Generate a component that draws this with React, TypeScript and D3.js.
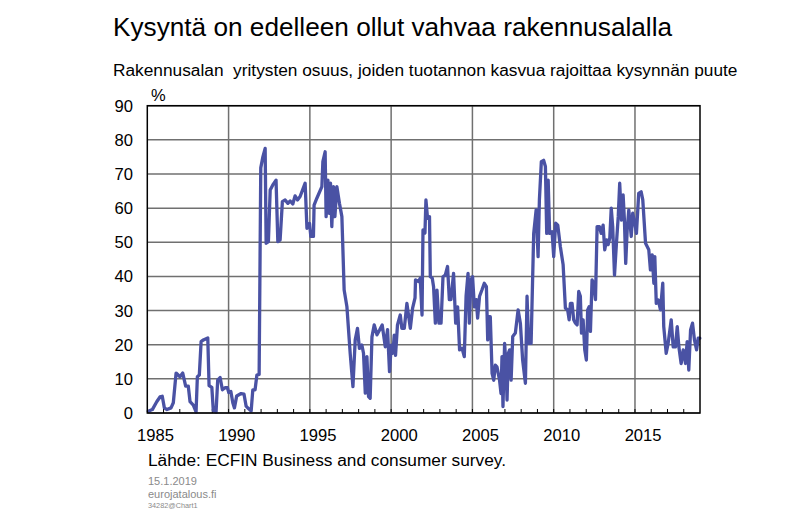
import React from 'react';
import * as d3 from 'd3';

const years = [
  1985.06, 1985.31, 1985.58, 1985.78, 1985.92, 1986.05, 1986.21, 1986.46, 1986.6, 1986.77,
  1987.01, 1987.18, 1987.36, 1987.52, 1987.63, 1987.83, 1988.0, 1988.08, 1988.2, 1988.31,
  1988.45, 1988.72, 1988.8, 1988.97, 1989.06, 1989.23, 1989.33, 1989.48, 1989.62, 1989.78,
  1989.93, 1990.01, 1990.14, 1990.26, 1990.36, 1990.5, 1990.77, 1990.95, 1991.08, 1991.22,
  1991.39, 1991.49, 1991.63, 1991.74, 1991.88, 1991.98, 1992.11, 1992.25, 1992.31, 1992.45,
  1992.56, 1992.72, 1992.92, 1993.03, 1993.17, 1993.31, 1993.48, 1993.65, 1993.79, 1993.95,
  1994.09, 1994.24, 1994.4, 1994.71, 1994.82, 1994.98, 1995.06, 1995.22, 1995.26, 1995.43,
  1995.74, 1995.8, 1995.94, 1996.0, 1996.11, 1996.19, 1996.27, 1996.35, 1996.45, 1996.54,
  1996.66, 1996.82, 1996.97, 1997.11, 1997.28, 1997.48, 1997.65, 1997.79, 1997.93, 1998.05,
  1998.2, 1998.3, 1998.41, 1998.51, 1998.61, 1998.71, 1998.82, 1998.96, 1999.13, 1999.29,
  1999.45, 1999.64, 1999.78, 1999.9, 2000.01, 2000.11, 2000.19, 2000.27, 2000.39, 2000.56,
  2000.66, 2000.81, 2000.97, 2001.18, 2001.32, 2001.47, 2001.5, 2001.69, 2001.79, 2001.9,
  2001.96, 2002.08, 2002.14, 2002.24, 2002.36, 2002.41, 2002.53, 2002.61, 2002.72, 2002.82,
  2002.94, 2003.07, 2003.19, 2003.33, 2003.47, 2003.58, 2003.68, 2003.84, 2003.97, 2004.09,
  2004.21, 2004.36, 2004.5, 2004.61, 2004.73, 2004.81, 2004.91, 2005.01, 2005.12, 2005.24,
  2005.32, 2005.44, 2005.59, 2005.73, 2005.86, 2005.94, 2006.0, 2006.1, 2006.21, 2006.31,
  2006.41, 2006.51, 2006.67, 2006.76, 2006.82, 2006.88, 2006.98, 2007.07, 2007.13, 2007.21,
  2007.29, 2007.38, 2007.48, 2007.64, 2007.81, 2007.95, 2008.09, 2008.26, 2008.36, 2008.46,
  2008.61, 2008.77, 2008.92, 2009.04, 2009.12, 2009.24, 2009.38, 2009.49, 2009.57, 2009.66,
  2009.75, 2009.9, 2010.0, 2010.12, 2010.25, 2010.41, 2010.58, 2010.72, 2010.86, 2010.95,
  2011.03, 2011.13, 2011.23, 2011.34, 2011.44, 2011.54, 2011.64, 2011.71, 2011.81, 2011.91,
  2012.01, 2012.09, 2012.18, 2012.26, 2012.36, 2012.46, 2012.57, 2012.67, 2012.81, 2012.92,
  2013.04, 2013.14, 2013.25, 2013.35, 2013.45, 2013.54, 2013.63, 2013.74, 2013.86, 2013.97,
  2014.06, 2014.17, 2014.27, 2014.35, 2014.43, 2014.52, 2014.62, 2014.77, 2014.86, 2014.99,
  2015.09, 2015.23, 2015.38, 2015.48, 2015.65, 2015.85, 2015.95, 2016.06, 2016.16, 2016.22,
  2016.31, 2016.43, 2016.57, 2016.71, 2016.77, 2016.92, 2017.04, 2017.23, 2017.35, 2017.49,
  2017.6, 2017.7, 2017.84, 2017.97, 2018.11, 2018.21, 2018.31, 2018.42, 2018.54, 2018.66,
  2018.79, 2018.89, 2018.99,
];

const shortage = [
  0.5, 1, 3.3, 4.7, 4.9, 1.5, 1, 1.5, 3, 11.7,
  10.6, 11.7, 7.9, 7.9, 3.3, 2.3, 0.3, 10.6, 11.1, 20.9,
  21.4, 22, 8, 7.5, 0.7, 0.3, 9.6, 10.4, 6.8, 7.4,
  7.4, 6, 6.3, 3, 1.5, 5, 5.7, 5.5, 2, 1.3,
  0.6, 6.8, 6.8, 11.1, 11.3, 71.8, 75, 77.5, 49.7, 50.2,
  65.3, 66.8, 68.2, 50.2, 50.7, 61.9, 62.4, 61.4, 62.1, 61.2,
  63.6, 62.4, 63.4, 67.3, 54.1, 55.5, 51.7, 51.7, 60.9, 62.9,
  66.3, 73.6, 76.5, 57.5, 68.2, 58.5, 67.3, 54.6, 66.3, 57.5,
  66.3, 61.4, 57.5, 36, 31.1, 17.5, 7.7, 21.4, 24.8, 18.9,
  19.9, 17.5, 5.8, 16.5, 4.8, 4.3, 22.3, 25.8, 22.9, 24.3,
  25.8, 19.4, 24.4, 12.1, 19.9, 17.5, 22.8, 16.9, 25.8, 28.7,
  24.8, 24.8, 32.1, 24.8, 30.7, 33.7, 39, 38.5, 39.5, 28.7,
  53.6, 52.7, 62.4, 57, 57.5, 39.9, 39.5, 37, 26.3, 36,
  26.3, 26.3, 39.9, 40.4, 42.9, 33.2, 33.2, 40.9, 26.3, 31.1,
  18.5, 19, 16.5, 34.2, 40.9, 26.3, 39, 39.9, 31.1, 33.2,
  27.8, 34.2, 36.1, 38, 37, 21.4, 28.2, 28.2, 11.6, 9.6,
  14, 13.5, 9.6, 5.7, 16.5, 1.9, 20.4, 13.5, 3.8, 17.5,
  18.5, 9.6, 22.4, 23.4, 30.2, 26.3, 15.5, 8.7, 34.2, 20.4,
  20.4, 52.6, 59.5, 45.8, 62.4, 73.6, 74, 72.2, 52.6, 68.2,
  52.6, 53.1, 45.8, 55.6, 55, 48.7, 43.4, 30.7, 30.2, 27.3,
  32.1, 32.1, 27.3, 26.3, 25.8, 35.6, 34.2, 23.4, 27.3, 18.5,
  15.5, 30.2, 31.1, 23.9, 39, 38, 33.2, 54.6, 54.6, 52.6,
  55, 47.8, 50.7, 49.3, 51.2, 60, 54.6, 40.4, 49.7, 57.5,
  67.3, 56.5, 63.9, 56.5, 43.8, 53.6, 59.5, 51.7, 58.5, 55.6,
  52.6, 64.3, 64.8, 62.4, 49.7, 47.8, 41.9, 46.3, 38, 45.8,
  32.1, 33.1, 30.2, 38, 25.3, 17.5, 20.4, 27.3, 19.4, 19.4,
  25.3, 19.4, 14.5, 18.5, 14.5, 20.9, 12.6, 24.3, 26.3, 21.4,
  18.5, 21.9, 21.9,
];

const yTicks = [0, 10, 20, 30, 40, 50, 60, 70, 80, 90];
const xLabels = [1985, 1990, 1995, 2000, 2005, 2010, 2015];
const gridYears = [1990, 1995, 2000, 2005, 2010, 2015];
const minorYears = d3.range(1986, 2019);

const title = 'Kysyntä on edelleen ollut vahvaa rakennusalalla';
const subtitle = 'Rakennusalan  yritysten osuus, joiden tuotannon kasvua rajoittaa kysynnän puute';
const source = 'Lähde: ECFIN Business and consumer survey.';
const footer = ['15.1.2019', 'eurojatalous.fi'];
const code = '34282@Chart1';

export default function App() {
  const W = 801;
  const H = 523;
  const left = 147.3;
  const right = 700;
  const top = 105.7;
  const bottom = 413;
  const x = d3.scaleLinear().domain([1985, 2019]).range([left, right]);
  const y = d3.scaleLinear().domain([0, 90]).range([bottom, top]);
  const pts: [number, number][] = years.map((yr, i) => [yr, shortage[i]]);
  const path = d3
    .line<[number, number]>()
    .x((d) => x(d[0]))
    .y((d) => y(d[1]))(pts) as string;
  const font = 'Liberation Sans, Arial, sans-serif';

  return (
    <svg
      width={W}
      height={H}
      style={{ position: 'absolute', left: 0, top: 0, background: '#fff' }}
      fontFamily={font}
    >
      <rect x={0} y={0} width={W} height={H} fill="#fff" />
      <text x={113} y={36} fontSize={26.2} fill="#000">{title}</text>
      <text x={113} y={76} fontSize={17.3} fill="#000" style={{ whiteSpace: 'pre' }}>{subtitle}</text>
      <text x={151} y={101} fontSize={16.5} fill="#000">%</text>

      {yTicks.map((t) => (
        <line key={'h' + t} x1={left} x2={right} y1={y(t)} y2={y(t)} stroke="#707070" strokeWidth={1.5} />
      ))}
      {gridYears.map((g) => (
        <line key={'v' + g} x1={x(g)} x2={x(g)} y1={top} y2={bottom} stroke="#707070" strokeWidth={1.5} />
      ))}
      {minorYears.map((m) => (
        <line key={'m' + m} x1={x(m)} x2={x(m)} y1={bottom} y2={bottom - 4} stroke="#000" strokeWidth={1} />
      ))}

      {yTicks.map((t) => (
        <text key={'yl' + t} x={133} y={y(t)} dy="0.36em" textAnchor="end" fontSize={16.6} fill="#000">
          {t}
        </text>
      ))}
      {xLabels.map((l) => (
        <text key={'xl' + l} x={x(l + 0.5)} y={441} textAnchor="middle" fontSize={16.6} fill="#000">
          {l}
        </text>
      ))}

      <path d={path} fill="none" stroke="#4a52a4" strokeWidth={3.3} strokeLinejoin="round" strokeLinecap="round" />

      <rect x={left} y={top} width={right - left} height={bottom - top} fill="none" stroke="#000" strokeWidth={1.5} />

      <text x={148} y={466} fontSize={17.3} fill="#000">{source}</text>
      <text x={148} y={485} fontSize={11} fill="#8a8a8a">{footer[0]}</text>
      <text x={148} y={498} fontSize={11} fill="#8a8a8a">{footer[1]}</text>
      <text x={148} y={508} fontSize={7.3} fill="#8a8a8a">{code}</text>
    </svg>
  );
}
